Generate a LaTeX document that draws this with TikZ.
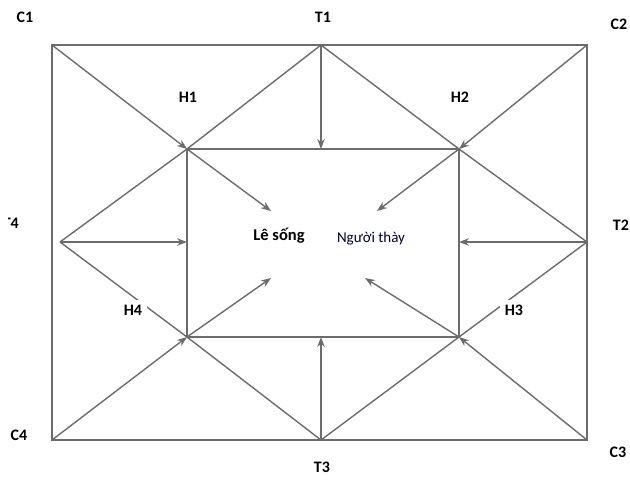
\documentclass[tikz,border=0pt]{standalone}
\usepackage{fontspec}
\setmainfont{Carlito}
\usetikzlibrary{arrows.meta}
\begin{document}
\begin{tikzpicture}[x=1pt,y=-1pt,
  ln/.style={draw=gray!85!black,line width=1.4pt},
  ar/.style={ln,-{Stealth[length=10pt,width=7.5pt,fill=black!80]}},
  lab/.style={font=\bfseries\fontsize{16}{18}\selectfont,inner sep=1pt},
  gaplab/.style={lab,fill=white,inner sep=5pt}]
\useasboundingbox (0,0) rectangle (630,480);
% outer points
\coordinate (C1) at (52,45);
\coordinate (C2) at (587,45);
\coordinate (C3) at (587,440);
\coordinate (C4) at (52,440);
\coordinate (T1) at (321,45);
\coordinate (T2) at (587,242);
\coordinate (T3) at (321,440);
\coordinate (T4) at (60,242);
% inner corners
\coordinate (H1) at (187,149);
\coordinate (H2) at (459,149);
\coordinate (H3) at (459,337);
\coordinate (H4) at (187,337);
% inner side midpoints
\coordinate (M1) at (321,149);
\coordinate (M2) at (459,242);
\coordinate (M3) at (321,337);
\coordinate (M4) at (187,242);
% arrow ends toward centre
\coordinate (E1) at (271,211);
\coordinate (E2) at (377,211);
\coordinate (E3) at (365,278);
\coordinate (E4) at (271,278);
% rectangles
\draw[ln] (C1) rectangle (C3);
\draw[ln] (H1) rectangle (H3);
% plain lines
\draw[ln] (T1) -- (H1);
\draw[ln] (T1) -- (H2);
\draw[ln] (T4) -- (H1);
\draw[ln] (T2) -- (H2);
\draw[ln] (T4) -- (H4);
\draw[ln] (T2) -- (H3);
\draw[ln] (T3) -- (H4);
\draw[ln] (T3) -- (H3);
% arrows from outside to inner rectangle
\draw[ar] (C1) -- (H1);
\draw[ar] (C2) -- (H2);
\draw[ar] (C3) -- (H3);
\draw[ar] (C4) -- (H4);
\draw[ar] (T1) -- (M1);
\draw[ar] (T3) -- (M3);
\draw[ar] (T4) -- (M4);
\draw[ar] (T2) -- (M2);
% arrows towards centre
\draw[ar] (H1) -- (E1);
\draw[ar] (H2) -- (E2);
\draw[ar] (H3) -- (E3);
\draw[ar] (H4) -- (E4);
% labels
\node[lab] (lC1) at (25,17) {C1};
\node[lab] (lT1) at (323,17) {T1};
\node[lab] (lC2) at (619,24) {C2};
\node[lab] (lT2) at (621,225) {T2};
\begin{scope}
\clip (8.5,200) rectangle (40,250);
\node[lab,anchor=east] (lT4) at (20,223) {T4};
\end{scope}
\node[lab] (lH1) at (188,97) {H1};
\node[lab] (lH2) at (460,97) {H2};
\node[gaplab] (lH4) at (133,310) {H4};
\node[gaplab] (lH3) at (514,310) {H3};
\node[lab] (lC4) at (19,435) {C4};
\node[lab] (lT3) at (322,467) {T3};
\node[lab] (lC3) at (618,452) {C3};
\node[lab,font=\bfseries\fontsize{16.5}{18}\selectfont] (ls) at (279,236) {Lê sống};
\node[font=\fontsize{15}{17}\selectfont,inner sep=1pt,text=black!80!blue] (nt) at (371,239) {Người thày};
\end{tikzpicture}
\end{document}
